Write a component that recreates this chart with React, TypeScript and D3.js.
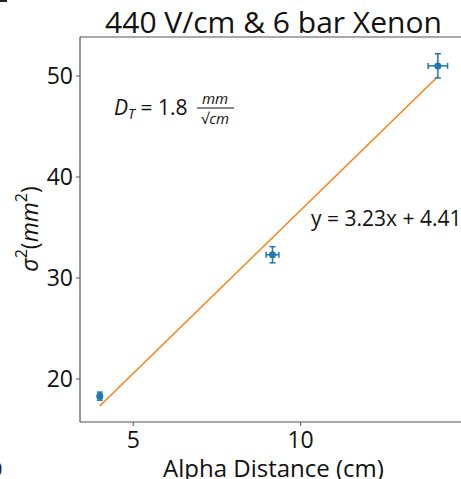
import React from "react";
import * as d3 from "d3";

// Measured spread vs alpha drift distance
const distances = [4.0, 9.16, 14.1];
const sigmaSq = [18.3, 32.3, 51.0];
const distErr = [0.06, 0.19, 0.29];
const sigmaErr = [0.4, 0.8, 1.2];
const fitSlope = 3.23;
const fitIntercept = 4.41;
const xTicks = [5, 10];
const yTicks = [20, 30, 40, 50];
const titleText = "440 V/cm & 6 bar Xenon";
const xLabel = "Alpha Distance (cm)";

const W = 461;
const H = 479;
const margin = { left: 80, top: 37, right: -6, bottom: 57 };
const FONT = "'Open Sans', 'Noto Sans', sans-serif";
const BLUE = "#1f77b4";
const ORANGE = "#ff7f0e";
const SPINE = "#555";

export default function App() {
  const x = d3
    .scaleLinear()
    .domain([3.41, 14.97])
    .range([margin.left, W - margin.right]);
  const y = d3
    .scaleLinear()
    .domain([15.74, 53.86])
    .range([H - margin.bottom, margin.top]);

  const fitX = [distances[0], distances[distances.length - 1]];
  const fitLine = d3
    .line<number>()
    .x((d) => x(d))
    .y((d) => y(fitSlope * d + fitIntercept));

  const x0 = margin.left;
  const x1 = W - margin.right;
  const y0 = H - margin.bottom;
  const y1 = margin.top;
  const cap = 3;

  return (
    <div style={{ position: "absolute", left: 0, top: 0, width: W, height: H, overflow: "hidden" }}>
      <svg width={W} height={H} style={{ display: "block", background: "#fff" }} fontFamily={FONT}>
        {/* neighbouring panel remnants */}
        <rect x={0} y={0} width={7} height={2} fill="#222" />
        <text x={-9} y={476} fontSize={20} fill="#222">0</text>

        {/* title */}
        <text x={(x0 + x1) / 2} y={33} fontSize={30} textAnchor="middle" fill="#111">
          {titleText}
        </text>

        {/* spines (right one falls outside the canvas) */}
        <line x1={x0} x2={x0} y1={y1} y2={y0} stroke={SPINE} strokeWidth={1.2} />
        <line x1={x0} x2={W} y1={y0} y2={y0} stroke={SPINE} strokeWidth={1.2} />
        <line x1={x0} x2={W} y1={y1} y2={y1} stroke={SPINE} strokeWidth={1.2} />

        {/* x ticks */}
        {xTicks.map((t) => (
          <g key={"xt" + t}>
            <line x1={x(t)} x2={x(t)} y1={y0} y2={y0 + 4} stroke={SPINE} strokeWidth={1} />
            <text x={x(t)} y={y0 + 26} fontSize={23} textAnchor="middle" fill="#111">
              {t}
            </text>
          </g>
        ))}

        {/* y ticks */}
        {yTicks.map((t) => (
          <g key={"yt" + t}>
            <line x1={x0 - 4} x2={x0} y1={y(t)} y2={y(t)} stroke={SPINE} strokeWidth={1} />
            <text x={x0 - 7} y={y(t) + 8} fontSize={23} textAnchor="end" fill="#111">
              {t}
            </text>
          </g>
        ))}

        {/* axis labels */}
        <text x={(x0 + x1) / 2} y={477} fontSize={24} textAnchor="middle" fill="#111">
          {xLabel}
        </text>
        <text transform={`translate(38, 229) rotate(-90)`} fontSize={23} textAnchor="middle" fill="#111">
          <tspan fontStyle="italic">σ</tspan>
          <tspan fontSize={16} dy={-11}>2</tspan>
          <tspan dy={11}>(</tspan>
          <tspan fontStyle="italic">mm</tspan>
          <tspan fontSize={16} dy={-11}>2</tspan>
          <tspan dy={11}>)</tspan>
        </text>

        {/* linear fit */}
        <path d={fitLine(fitX) ?? ""} fill="none" stroke={ORANGE} strokeWidth={1.5} />

        {/* data with error bars */}
        {distances.map((d, i) => {
          const cx = x(d);
          const cy = y(sigmaSq[i]);
          const ex0 = x(d - distErr[i]);
          const ex1 = x(d + distErr[i]);
          const ey0 = y(sigmaSq[i] - sigmaErr[i]);
          const ey1 = y(sigmaSq[i] + sigmaErr[i]);
          return (
            <g key={"p" + i} stroke={BLUE} strokeWidth={1.5}>
              <line x1={ex0} x2={ex1} y1={cy} y2={cy} />
              <line x1={ex0} x2={ex0} y1={cy - cap} y2={cy + cap} />
              <line x1={ex1} x2={ex1} y1={cy - cap} y2={cy + cap} />
              <line x1={cx} x2={cx} y1={ey0} y2={ey1} />
              <line x1={cx - cap} x2={cx + cap} y1={ey0} y2={ey0} />
              <line x1={cx - cap} x2={cx + cap} y1={ey1} y2={ey1} />
              <circle cx={cx} cy={cy} r={3.5} fill={BLUE} stroke="none" />
            </g>
          );
        })}

        {/* annotations */}
        <text x={114} y={115} fontSize={21} fill="#111">
          <tspan fontStyle="italic">D</tspan>
          <tspan fontStyle="italic" fontSize={14} dy={4}>T</tspan>
          <tspan dy={-4}> = 1.8</tspan>
        </text>
        <g fontSize={15} fill="#111" textAnchor="middle">
          <text x={215} y={104} fontStyle="italic">mm</text>
          <line x1={197} x2={234} y1={108} y2={108} stroke="#111" strokeWidth={1} />
          <text x={215} y={124}>
            <tspan>√</tspan>
            <tspan fontStyle="italic">cm</tspan>
          </text>
        </g>
        <text x={311} y={226} fontSize={21} fill="#111">
          {`y = ${fitSlope.toFixed(2)}x + ${fitIntercept.toFixed(2)}`}
        </text>
      </svg>
    </div>
  );
}
